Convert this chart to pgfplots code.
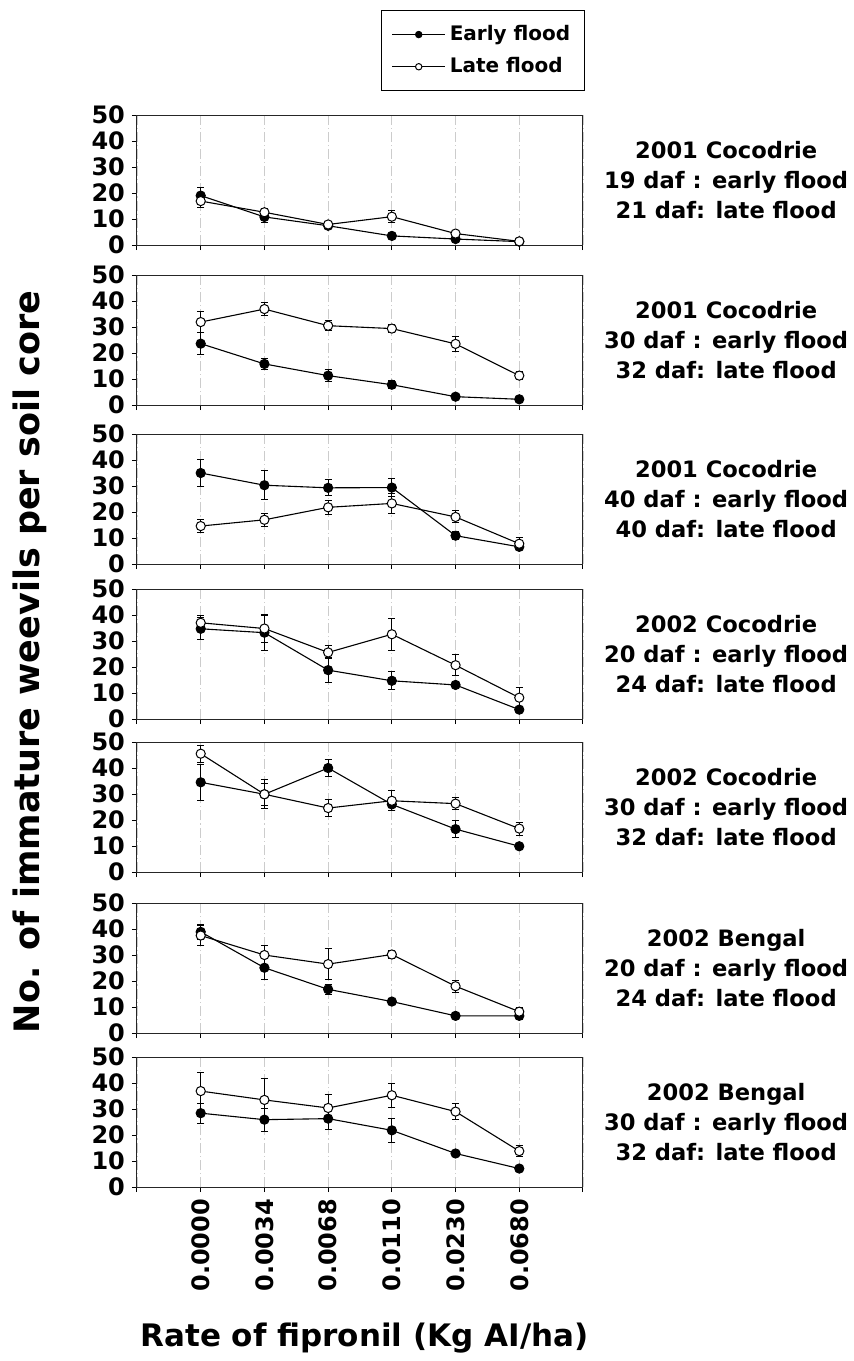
\documentclass[border=0pt]{standalone}
\usepackage{fontspec}
\setmainfont{DejaVu Sans}
\usepackage{pgfplots}
\pgfplotsset{compat=1.18}

\tikzset{sitelabel/.style={align=center, font=\bfseries\fontsize{11.3}{15}\selectfont}}

\pgfplotsset{
  panel/.style={
    scale only axis, width=223pt, height=65pt,
    anchor=north west,
    xmin=0, xmax=7, ymin=0, ymax=50,
    xtick={0,...,7}, xticklabels={},
    ytick={0,10,...,50},
    xtick pos=bottom, ytick pos=left,
    tick align=outside, major tick length=2.5pt,
    tick style={black, line width=0.5pt},
    axis line style={black!85, line width=0.5pt},
    xmajorgrids,
    grid style={gray!40, line width=0.6pt, dash pattern=on 5pt off 1.5pt on 0.6pt off 1.5pt},
    /pgf/number format/assume math mode=true,
    tick label style={font=\bfseries\fontsize{12}{14}\selectfont},
    clip=false,
    legend image code/.code={
      \draw[#1, mark size=1.6pt, mark repeat=2, mark phase=2]
        plot coordinates {(0pt,0pt) (13.25pt,0pt) (26.5pt,0pt)};},
  },
  early/.style={black, line width=0.55pt, mark=*, mark size=2.3pt,
    mark options={fill=black, line width=0.5pt},
    error bars/.cd, y dir=both, y explicit,
    error bar style={black, line width=0.5pt},
    error mark options={rotate=90, mark size=1.8pt, line width=0.5pt}},
  late/.style={black, line width=0.55pt, mark=*, mark size=2.3pt,
    mark options={fill=white, line width=0.5pt},
    error bars/.cd, y dir=both, y explicit,
    error bar style={black, line width=0.5pt},
    error mark options={rotate=90, mark size=1.8pt, line width=0.5pt}},
}

\begin{document}
\begin{tikzpicture}
\path[use as bounding box] (-68.5pt,57.5pt) rectangle (358pt,-623pt);

% panel 1
\begin{axis}[panel, at={(0pt,0pt)},
  legend style={at={(1.004,1.808)}, anchor=north east, draw=black, line width=0.5pt,
    font=\bfseries\fontsize{10}{12}\selectfont, row sep=3pt,
    inner xsep=5pt, inner ysep=5.5pt, cells={anchor=west}}]
\addplot+[early] coordinates {(1,19.0) +- (0,3.0) (2,10.8) +- (0,2.3) (3,7.4) +- (0,1.0)
  (4,3.5) +- (0,0.8) (5,2.3) +- (0,0.8) (6,1.3) +- (0,0.5)};
\addlegendentry{Early flood}
\addplot+[late] coordinates {(1,16.9) +- (0,2.4) (2,12.6) +- (0,1.5) (3,7.9) +- (0,1.0)
  (4,10.9) +- (0,2.2) (5,4.4) +- (0,1.0) (6,1.4) +- (0,0.5)};
\addlegendentry{Late flood}
\node[sitelabel] at (rel axis cs:1.321,0.5) {2001 Cocodrie\\19 daf : early flood\\21 daf: late flood};
\end{axis}

% panel 2
\begin{axis}[panel, at={(0pt,-80pt)}]
\addplot+[early] coordinates {(1,23.6) +- (0,4.2) (2,15.8) +- (0,2.1) (3,11.3) +- (0,2.4)
  (4,7.8) +- (0,1.5) (5,3.2) +- (0,0.6) (6,2.2) +- (0,0.5)};
\addplot+[late] coordinates {(1,31.9) +- (0,4.0) (2,36.9) +- (0,2.5) (3,30.5) +- (0,2.0)
  (4,29.4) +- (0,1.4) (5,23.5) +- (0,2.8) (6,11.3) +- (0,1.5)};
\node[sitelabel] at (rel axis cs:1.321,0.5) {2001 Cocodrie\\30 daf : early flood\\32 daf: late flood};
\end{axis}

% panel 3
\begin{axis}[panel, at={(0pt,-159.5pt)}]
\addplot+[early] coordinates {(1,35.0) +- (0,5.2) (2,30.3) +- (0,5.5) (3,29.3) +- (0,3.1)
  (4,29.4) +- (0,3.6) (5,10.9) +- (0,1.5) (6,6.6) +- (0,1.0)};
\addplot+[late] coordinates {(1,14.6) +- (0,2.5) (2,17.0) +- (0,2.4) (3,21.8) +- (0,2.6)
  (4,23.3) +- (0,4.0) (5,18.1) +- (0,2.3) (6,7.8) +- (0,2.3)};
\node[sitelabel] at (rel axis cs:1.321,0.5) {2001 Cocodrie\\40 daf : early flood\\40 daf: late flood};
\end{axis}

% panel 4
\begin{axis}[panel, at={(0pt,-237pt)}]
\addplot+[early] coordinates {(1,34.7) +- (0,4.2) (2,33.2) +- (0,6.8) (3,18.8) +- (0,4.8)
  (4,14.7) +- (0,3.5) (5,13.1) +- (0,1.0) (6,3.6) +- (0,1.0)};
\addplot+[late] coordinates {(1,37.0) +- (0,2.7) (2,34.8) +- (0,5.4) (3,25.6) +- (0,2.5)
  (4,32.6) +- (0,6.2) (5,20.7) +- (0,4.0) (6,8.2) +- (0,4.0)};
\node[sitelabel] at (rel axis cs:1.321,0.5) {2002 Cocodrie\\20 daf : early flood\\24 daf: late flood};
\end{axis}

% panel 5
\begin{axis}[panel, at={(0pt,-313.5pt)}]
\addplot+[early] coordinates {(1,34.5) +- (0,6.9) (2,29.9) +- (0,4.3) (3,40.0) +- (0,3.2)
  (4,26.0) +- (0,2.4) (5,16.5) +- (0,3.2) (6,9.9) +- (0,1.0)};
\addplot+[late] coordinates {(1,45.5) +- (0,3.2) (2,29.9) +- (0,5.6) (3,24.6) +- (0,3.3)
  (4,27.4) +- (0,3.9) (5,26.3) +- (0,2.4) (6,16.7) +- (0,2.5)};
\node[sitelabel] at (rel axis cs:1.321,0.5) {2002 Cocodrie\\30 daf : early flood\\32 daf: late flood};
\end{axis}

% panel 6
\begin{axis}[panel, at={(0pt,-394pt)}]
\addplot+[early] coordinates {(1,38.9) +- (0,3.0) (2,25.1) +- (0,4.7) (3,16.8) +- (0,1.9)
  (4,12.1) +- (0,1.2) (5,6.6) +- (0,1.0) (6,6.6) +- (0,1.5)};
\addplot+[late] coordinates {(1,37.5) +- (0,3.7) (2,30.0) +- (0,3.7) (3,26.5) +- (0,6.0)
  (4,30.2) +- (0,1.6) (5,18.0) +- (0,2.3) (6,8.2) +- (0,1.5)};
\node[sitelabel] at (rel axis cs:1.321,0.5) {2002 Bengal\\20 daf : early flood\\24 daf: late flood};
\end{axis}

% panel 7
\begin{axis}[panel, at={(0pt,-471pt)},
  xticklabels={,0.0000,0.0034,0.0068,0.0110,0.0230,0.0680,},
  xticklabel style={rotate=90, anchor=east}]
\addplot+[early] coordinates {(1,28.4) +- (0,3.9) (2,25.9) +- (0,4.4) (3,26.3) +- (0,4.1)
  (4,21.8) +- (0,4.6) (5,12.9) +- (0,1.0) (6,7.1) +- (0,0.5)};
\addplot+[late] coordinates {(1,36.9) +- (0,7.3) (2,33.5) +- (0,8.3) (3,30.4) +- (0,5.2)
  (4,35.3) +- (0,4.7) (5,29.0) +- (0,3.2) (6,13.8) +- (0,2.1)};
\node[sitelabel] at (rel axis cs:1.321,0.5) {2002 Bengal\\30 daf : early flood\\32 daf: late flood};
\end{axis}

\node[rotate=90, font=\bfseries\fontsize{17.5}{20}\selectfont] at (-53.5pt,-273.5pt)
  {No. of immature weevils per soil core};
\node[font=\bfseries\fontsize{15.5}{18}\selectfont] at (113.75pt,-611.5pt)
  {Rate of fipronil (Kg AI/ha)};
\end{tikzpicture}
\end{document}
